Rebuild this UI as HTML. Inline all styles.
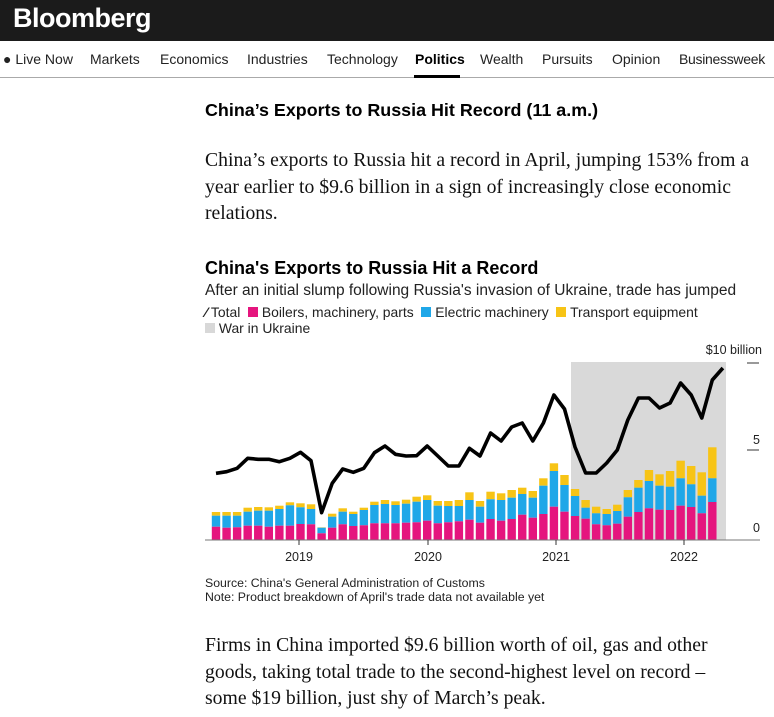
<!DOCTYPE html>
<html><head><meta charset="utf-8"><style>
body{margin:0;width:774px;height:717px;background:#fff;position:relative;overflow:hidden;font-family:"Liberation Sans",sans-serif;color:#000}
.a{position:absolute;white-space:nowrap}
.nav{top:51px;font-size:14px;color:#222}
.ser{font-family:"Liberation Serif",serif;font-size:19.7px;color:#111;left:205px;line-height:26.5px}
</style></head><body>
<div class="a" style="left:0;top:0;width:774px;height:41px;background:#1b1b1b"></div>
<div class="a" style="left:13px;top:3px;font-size:27px;font-weight:bold;color:#fff;letter-spacing:-0.5px">Bloomberg</div>
<div class="a nav" style="left:3px">● Live Now</div>
<div class="a nav" style="left:90px">Markets</div>
<div class="a nav" style="left:160px">Economics</div>
<div class="a nav" style="left:247px">Industries</div>
<div class="a nav" style="left:327px">Technology</div>
<div class="a nav" style="left:415px;font-weight:bold;color:#000">Politics</div>
<div class="a nav" style="left:480px">Wealth</div>
<div class="a nav" style="left:542px">Pursuits</div>
<div class="a nav" style="left:612px">Opinion</div>
<div class="a nav" style="left:679px;letter-spacing:-0.3px">Businessweek</div>
<div class="a" style="left:0;top:77px;width:774px;height:1px;background:#aaa"></div>
<div class="a" style="left:414px;top:75px;width:46px;height:3px;background:#000"></div>
<div class="a" style="left:205px;top:100px;font-size:17.9px;font-weight:bold">China’s Exports to Russia Hit Record (11 a.m.)</div>
<div class="a ser" style="top:147px">China’s exports to Russia hit a record in April, jumping 153% from a<br>year earlier to $9.6 billion in a sign of increasingly close economic<br>relations.</div>
<div class="a" style="left:205px;top:258px;font-size:18px;font-weight:bold">China's Exports to Russia Hit a Record</div>
<div class="a" style="left:205px;top:282px;font-size:15.5px;color:#222">After an initial slump following Russia's invasion of Ukraine, trade has jumped</div>
<div class="a" style="left:205px;top:304px;font-size:13.9px;color:#222">
<span style="font-weight:bold">⁄</span> Total&nbsp;&nbsp;<span style="display:inline-block;width:10px;height:10px;background:#e5157e"></span> Boilers, machinery, parts&nbsp;&nbsp;<span style="display:inline-block;width:10px;height:10px;background:#1fa7e8"></span> Electric machinery&nbsp;&nbsp;<span style="display:inline-block;width:10px;height:10px;background:#f7c416"></span> Transport equipment</div>
<div class="a" style="left:205px;top:320px;font-size:13.9px;color:#222"><span style="display:inline-block;width:10px;height:10px;background:#d8d8d8"></span> War in Ukraine</div>
<svg class="a" style="left:0;top:0" width="774" height="717" id="c">
<rect x="571" y="362" width="155" height="178" fill="#d9d9d9"/>
<g id="bars"></g>
<polyline id="ln" fill="none" stroke="#000" stroke-width="3.6" stroke-linejoin="round"/>
<line x1="205" y1="540" x2="760" y2="540" stroke="#777" stroke-width="1"/>
<line x1="747" y1="363" x2="759" y2="363" stroke="#333"/>
<line x1="747" y1="450" x2="759" y2="450" stroke="#333"/>
<g stroke="#333"><line x1="299" y1="540" x2="299" y2="545"/><line x1="428" y1="540" x2="428" y2="545"/><line x1="556" y1="540" x2="556" y2="545"/><line x1="684" y1="540" x2="684" y2="545"/></g>
<g font-family="Liberation Sans" font-size="12.5" fill="#222">
<text x="762" y="354" text-anchor="end">$10 billion</text>
<text x="760" y="444" text-anchor="end">5</text>
<text x="760" y="532" text-anchor="end">0</text>
<text x="299" y="561" text-anchor="middle">2019</text>
<text x="428" y="561" text-anchor="middle">2020</text>
<text x="556" y="561" text-anchor="middle">2021</text>
<text x="684" y="561" text-anchor="middle">2022</text>
</g>
</svg>
<div class="a" style="left:205px;top:577px;font-size:12.3px;color:#222;line-height:13.5px">Source: China's General Administration of Customs<br>Note: Product breakdown of April's trade data not available yet</div>
<div class="a ser" style="top:632px">Firms in China imported $9.6 billion worth of oil, gas and other<br>goods, taking total trade to the second-highest level on record –<br>some $19 billion, just shy of March’s peak.</div>
<script>
var L=[473.3,471.7,468.3,458.3,459.3,459.3,461.7,458.3,452.3,460.7,512.7,483.3,469,472.3,468.3,452.7,446,454.3,456,455.7,446,456,466,466,448.3,456,433,441,427,423,441,423,395,409,447,473,473,463,450,420,398,398,408,403,383,395,418,380,368];
var B=[[526.7,515.7,512],[527.7,515.7,512],[527.3,515.7,512],[525.7,511.7,507.7],[525.7,510.7,507],[526.7,510.7,507.3],[525.7,509,505.7],[525.7,505.3,502.3],[524,507.3,503.3],[524.3,509,504.3],[533.3,527.7,527.3],[527.7,516.7,513.7],[524.3,511.7,508.3],[526,514,511.7],[525.3,510,507.7],[523.3,505,501.7],[523.3,504,500],[523.3,505,501.3],[522.7,503.7,499.7],[522.3,501.7,496.7],[520.7,500,495.3],[523.3,505.7,501],[522.3,506,501],[521.3,506,500],[519.7,500,492.3],[522.7,506.7,501],[519,499.3,491.7],[520.7,500,493.3],[519,497.7,490],[514.7,494,487.7],[517.7,497.7,491],[514,485.7,478.3],[506.7,471,463.3],[511.7,485,475],[516,496,489],[518.7,507.7,500],[524.3,513.3,506.7],[525.3,514,509],[523.7,511,504.7],[516.7,497.3,490],[512,487.7,480],[508.3,481,470],[509.7,485.7,474.3],[510,486.7,471],[505.7,478.3,460.7],[507,484.3,466],[513.3,495.7,472.3],[502,478.3,447.3]];
var s='',p=[];
function X(i){return 216+10.56*i}
B.forEach(function(b,i){var x=X(i)-4.2;
s+='<rect x="'+x+'" y="'+b[2]+'" width="8.4" height="'+(b[1]-b[2])+'" fill="#f7c416"/>';
s+='<rect x="'+x+'" y="'+b[1]+'" width="8.4" height="'+(b[0]-b[1])+'" fill="#1fa7e8"/>';
s+='<rect x="'+x+'" y="'+b[0]+'" width="8.4" height="'+(540-b[0])+'" fill="#e5157e"/>';});
document.getElementById('bars').innerHTML=s;
L.forEach(function(y,i){p.push(X(i).toFixed(1)+','+y)});
document.getElementById('ln').setAttribute('points',p.join(' '));
</script>
</body></html>
